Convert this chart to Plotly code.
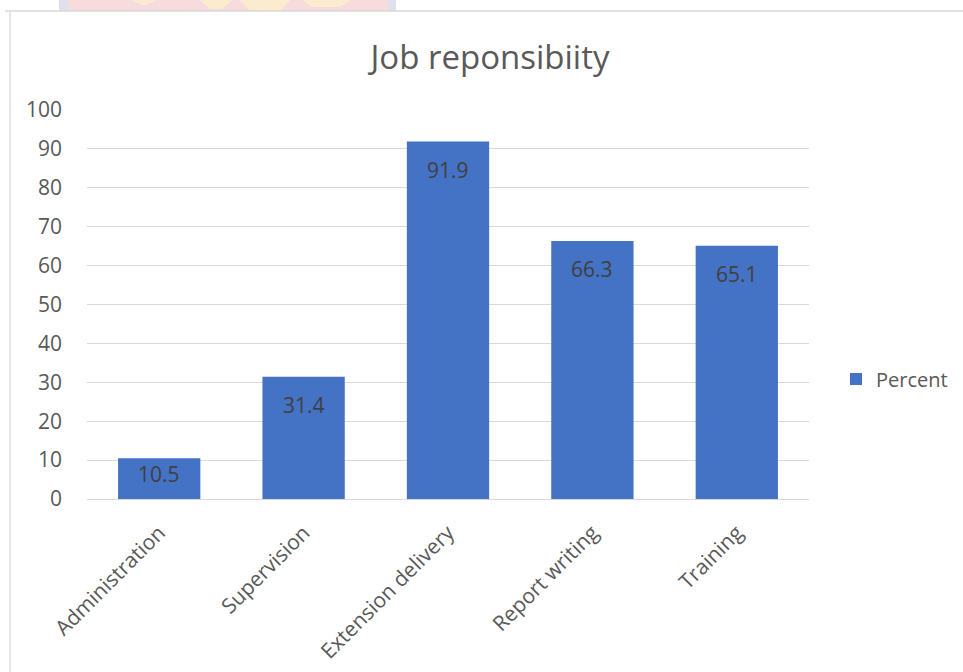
import plotly.graph_objects as go

categories = ["Administration", "Supervision", "Extension delivery", "Report writing", "Training"]
percent = [10.5, 31.4, 91.9, 66.3, 65.1]
y_ticks = [0, 10, 20, 30, 40, 50, 60, 70, 80, 90, 100]

W, H = 963, 672
L, R, T, B = 87, 809, 110, 499  # plot area in pixels
FONT = "Open Sans, Carlito, sans-serif"


def px_x(x):
    return (x - L) / (R - L)


def px_y(y):
    return (B - y) / (B - T)


fig = go.Figure()
fig.add_trace(go.Bar(
    x=categories,
    y=percent,
    name="Percent",
    marker=dict(color="#4472C4", line=dict(width=0)),
    width=0.57,
))

# value labels just inside the top of each bar (short bars: nudged up to stay inside)
annotations = [
    dict(x=c, y=v, xref="x", yref="y", text=f"{v}", showarrow=False,
         yanchor="middle", xanchor="center",
         yshift=-28 if v > 20 else -16,
         font=dict(family=FONT, size=21, color="#404040"))
    for c, v in zip(categories, percent)
]

shapes = []
# banner strip at the top edge
shapes.append(dict(type="rect", xref="paper", yref="paper",
                   x0=px_x(60), x1=px_x(396), y0=px_y(11), y1=px_y(0),
                   fillcolor="#f8dcdd", line=dict(width=0), layer="below"))
shapes.append(dict(type="rect", xref="paper", yref="paper",
                   x0=px_x(59), x1=px_x(68), y0=px_y(11), y1=px_y(0),
                   fillcolor="#dfe1ea", line=dict(width=0), layer="below"))
shapes.append(dict(type="rect", xref="paper", yref="paper",
                   x0=px_x(388), x1=px_x(396), y0=px_y(11), y1=px_y(0),
                   fillcolor="#dfe1ea", line=dict(width=0), layer="below"))
for (a, b, c) in [(132, 156, 5), (200, 232, 9), (240, 290, 11), (302, 350, 7)]:
    shapes.append(dict(type="path", xref="paper", yref="paper",
                       path=f"M {px_x(a)},{px_y(0)} L {px_x(b)},{px_y(0)} "
                            f"L {px_x(b - 10)},{px_y(c)} L {px_x(a + 10)},{px_y(c)} Z",
                       fillcolor="#fbeccf", line=dict(width=0), layer="below"))
# outer chart frame
shapes.append(dict(type="line", xref="paper", yref="paper",
                   x0=px_x(5), x1=px_x(963), y0=px_y(11), y1=px_y(11),
                   line=dict(color="#d9d9d9", width=1.3)))
shapes.append(dict(type="line", xref="paper", yref="paper",
                   x0=px_x(10), x1=px_x(10), y0=px_y(11), y1=px_y(672),
                   line=dict(color="#d9d9d9", width=1.3)))

fig.update_layout(
    width=W, height=H,
    margin=dict(l=L, r=W - R, t=T, b=H - B, pad=0, autoexpand=False),
    paper_bgcolor="white",
    plot_bgcolor="white",
    font=dict(family=FONT, color="#595959", size=21),
    title=dict(text="Job reponsibiity", x=490 / W, xanchor="center",
               y=1 - 57 / H, yanchor="middle",
               font=dict(size=33, color="#595959")),
    showlegend=True,
    legend=dict(x=px_x(836), y=px_y(379), xanchor="left", yanchor="middle",
                font=dict(size=20, color="#595959"), itemwidth=30,
                bgcolor="rgba(0,0,0,0)"),
    bargap=0.43,
    shapes=shapes,
    annotations=annotations,
    xaxis=dict(
        showgrid=False,
        showline=True, linecolor="#d9d9d9", linewidth=1.3,
        tickangle=-45, automargin=False,
        ticks="", ticklabelstandoff=12,
        tickfont=dict(size=21, color="#595959"),
    ),
    yaxis=dict(
        range=[0, 100],
        tickvals=y_ticks, automargin=False,
        showgrid=True, gridcolor="#d9d9d9", gridwidth=1.3,
        zeroline=False, showline=False,
        ticks="", ticklabelstandoff=24,
        tickfont=dict(size=21, color="#595959"),
    ),
)

fig.write_html("out.html")
